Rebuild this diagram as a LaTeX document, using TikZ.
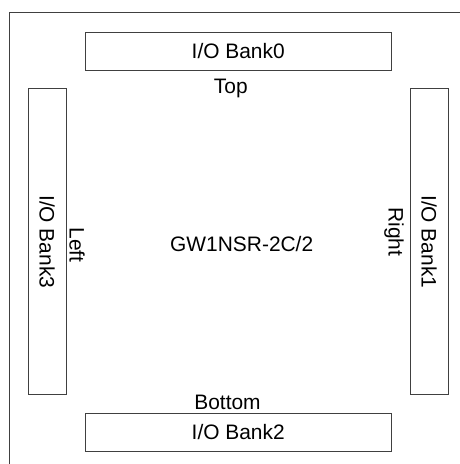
\documentclass[tikz,border=0pt]{standalone}
\usepackage{fontspec}
\setmainfont{Liberation Sans}

\definecolor{linegray}{RGB}{64,64,64}
\tikzset{
  bank/.style={draw=linegray, line width=1bp, minimum width=305.7bp, minimum height=38.3bp, inner sep=0pt, font=\fontsize{21}{25}\selectfont},
  sidebank/.style={bank, rotate=-90},
  sidelbl/.style={inner sep=0pt, font=\fontsize{21}{25}\selectfont},
}

\begin{document}
\begin{tikzpicture}[x=1bp,y=-1bp]
\useasboundingbox (0,0) rectangle (460,464);
\draw[linegray, line width=1bp] (9.5,464) -- (9.5,13) -- (460,13); % outer frame

\node[bank] (bank0) at (238.2,51.2) {I/O Bank0};
\node[bank] (bank2) at (238.2,432.5) {I/O Bank2};
\node[sidebank] (bank3) at (47.2,241.8) {I/O Bank3};
\node[sidebank] (bank1) at (429.2,241.8) {I/O Bank1};

\node[sidelbl, anchor=base] (top) at (230.8,93.5) {Top};
\node[sidelbl, anchor=base] (bottom) at (227.5,409.3) {Bottom};
\node[sidelbl, rotate=-90] (left) at (77,245) {Left};
\node[sidelbl, rotate=-90] (right) at (394,232) {Right};

\node[sidelbl, anchor=base] (chip) at (241.7,251.7) {GW1NSR-2C/2};
\end{tikzpicture}
\end{document}
